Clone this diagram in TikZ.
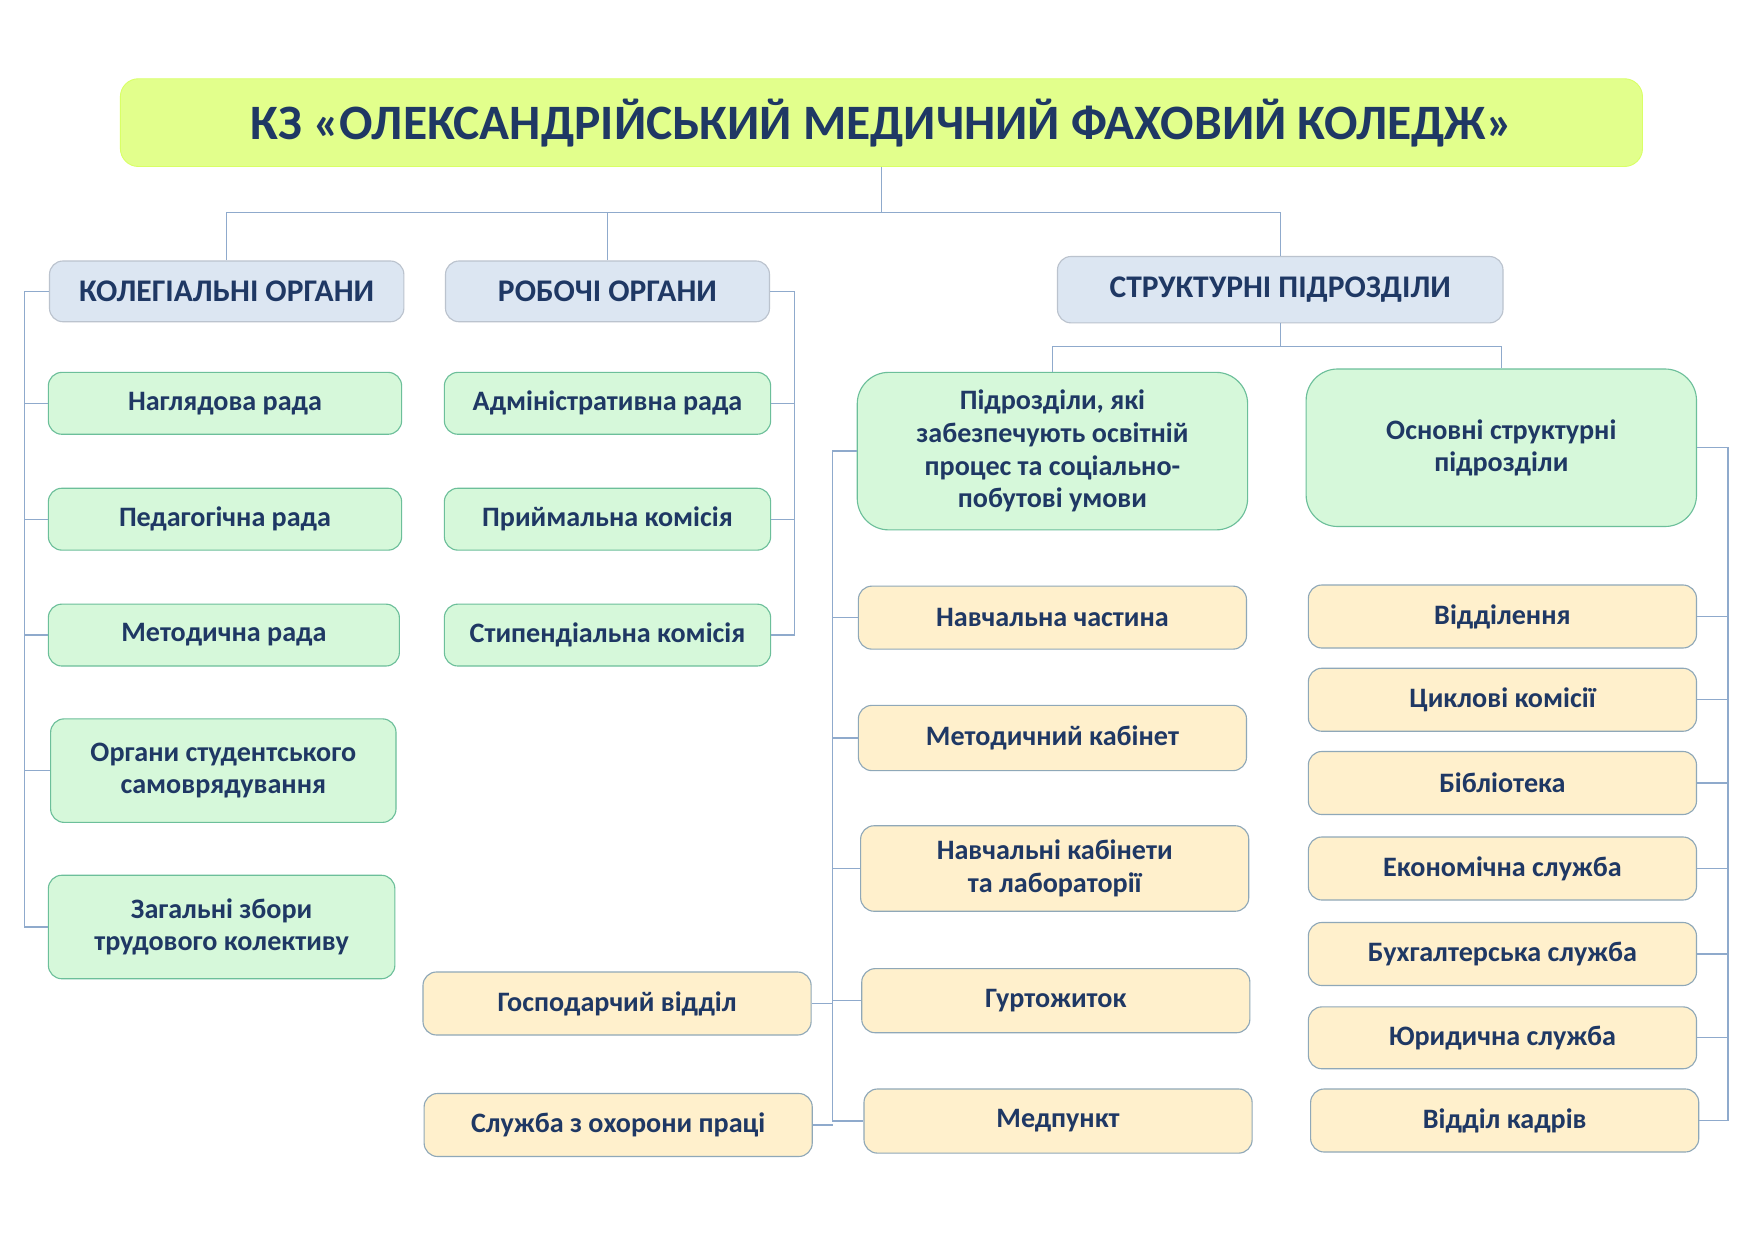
\documentclass[tikz,border=0pt]{standalone}
\usepackage{fontspec}
\setmainfont{Carlito}
\definecolor{txt}{HTML}{1F3864}
\definecolor{ln}{HTML}{8FAACC}
\definecolor{gfill}{HTML}{D6F8DA}
\definecolor{gdraw}{HTML}{6CBF9A}
\definecolor{yfill}{HTML}{FFF0CC}
\definecolor{ydraw}{HTML}{8FA8B8}
\definecolor{hfill}{HTML}{DCE6F2}
\tikzset{
 bx/.style={rounded corners=6pt,text=txt,font=\bfseries\fontsize{12.5}{14.5}\selectfont,align=center,inner sep=0pt},
 gb/.style={bx,fill=gfill,draw=gdraw,line width=0.5pt},
 yb/.style={bx,fill=yfill,draw=ydraw,line width=0.5pt},
 hb/.style={bx,fill=hfill,draw=hfill!85!black,line width=0.5pt,font=\bfseries\fontsize{14}{16}\selectfont},
 cn/.style={draw=ln,line width=0.6pt}
}
\newcommand{\bxat}[6]{\node[#1,minimum width=#4*0.5pt-#2*0.5pt,minimum height=#5*0.5pt-#3*0.5pt] (#6) at ({(#2+#4)/2},{(#3+#5)/2})}
\begin{document}
\begin{tikzpicture}[x=0.5pt,y=-0.5pt]
\useasboundingbox (0,0) rectangle (1560,1103);
\fill[white] (0,0) rectangle (1560,1103);
\bxat{bx,fill=green!25!yellow!45,draw=green!25!yellow!60,rounded corners=8pt,font=\bfseries\fontsize{22}{26}\selectfont}{107}{70}{1460}{148}{T}{КЗ «ОЛЕКСАНДРІЙСЬКИЙ МЕДИЧНИЙ ФАХОВИЙ КОЛЕДЖ»};
\bxat{hb}{44}{232}{359}{286}{H1}{КОЛЕГІАЛЬНІ ОРГАНИ};
\bxat{hb}{396}{232}{684}{286}{H2}{РОБОЧІ ОРГАНИ};
\bxat{hb}{940}{228}{1336}{287}{H3}{СТРУКТУРНІ ПІДРОЗДІЛИ};
% left
\bxat{gb}{43}{331}{357}{386}{L1}{Наглядова рада};
\bxat{gb}{43}{434}{357}{489}{L2}{Педагогічна рада};
\bxat{gb}{43}{537}{355}{592}{L3}{Методична рада};
\bxat{gb}{45}{639}{352}{731}{L4}{Органи студентського\\самоврядування};
\bxat{gb}{43}{778}{351}{870}{L5}{Загальні збори\\трудового колективу};
% middle
\bxat{gb}{395}{331}{685}{386}{M1}{Адміністративна рада};
\bxat{gb}{395}{434}{685}{489}{M2}{Приймальна комісія};
\bxat{gb}{395}{537}{685}{592}{M3}{Стипендіальна комісія};
\bxat{yb}{376}{864}{721}{920}{G1}{Господарчий відділ};
\bxat{yb}{377}{972}{722}{1028}{G2}{Служба з охорони праці};
% A and B
\bxat{gb,rounded corners=14pt}{762}{331}{1109}{471}{A}{Підрозділи, які\\забезпечують освітній\\процес та соціально-\\побутові умови};
\bxat{gb,rounded corners=14pt}{1161}{328}{1508}{468}{B}{Основні структурні\\підрозділи};
\bxat{yb}{763}{521}{1108}{577}{A1}{Навчальна частина};
\bxat{yb}{763}{627}{1108}{685}{A2}{Методичний кабінет};
\bxat{yb}{765}{734}{1110}{810}{A3}{Навчальні кабінети\\та лабораторії};
\bxat{yb}{766}{861}{1111}{918}{A4}{Гуртожиток};
\bxat{yb}{768}{968}{1113}{1025}{A5}{Медпункт};
\bxat{yb}{1163}{520}{1508}{576}{B1}{Відділення};
\bxat{yb}{1163}{594}{1508}{650}{B2}{Циклові комісії};
\bxat{yb}{1163}{668}{1508}{724}{B3}{Бібліотека};
\bxat{yb}{1163}{744}{1508}{800}{B4}{Економічна служба};
\bxat{yb}{1163}{820}{1508}{876}{B5}{Бухгалтерська служба};
\bxat{yb}{1163}{895}{1508}{950}{B6}{Юридична служба};
\bxat{yb}{1165}{968}{1510}{1024}{B7}{Відділ кадрів};
% connectors
\coordinate (t0) at (T.south |- 0,189);
\draw[cn] (T.south) -- (t0);
\draw[cn] (H1.north) |- (t0);
\draw[cn] (H2.north) -- (H2.north |- t0);
\draw[cn] (H3.north) |- (t0);
\coordinate (h3) at (H3.south |- 0,308);
\draw[cn] (H3.south) -- (h3);
\draw[cn] (A.north) |- (h3);
\draw[cn] (B.north) |- (h3);
% left bracket
\draw[cn] (H1.west) -- (22,0 |- H1.west) -- (22,0 |- L5.west) -- (L5.west);
\foreach \n in {L1,L2,L3,L4} \draw[cn] (\n.west) -- (22,0 |- \n.west);
% middle bracket
\draw[cn] (H2.east) -- (706,0 |- H2.east) -- (706,0 |- M3.east) -- (M3.east);
\foreach \n in {M1,M2} \draw[cn] (\n.east) -- (706,0 |- \n.east);
% A bracket
\draw[cn] (A.west) -- (740,0 |- A.west) -- (740,0 |- A5.west) -- (A5.west);
\foreach \n in {A1,A2,A3,A4} \draw[cn] (\n.west) -- (740,0 |- \n.west);
\draw[cn] (G1.east) -- (740,0 |- G1.east);
\draw[cn] (G2.east) -- (740,0 |- G2.east);
% B bracket
\draw[cn] (B.east) -- (1536,0 |- B.east) -- (1536,0 |- B7.east) -- (B7.east);
\foreach \n in {B1,B2,B3,B4,B5,B6} \draw[cn] (\n.east) -- (1536,0 |- \n.east);
\end{tikzpicture}
\end{document}
